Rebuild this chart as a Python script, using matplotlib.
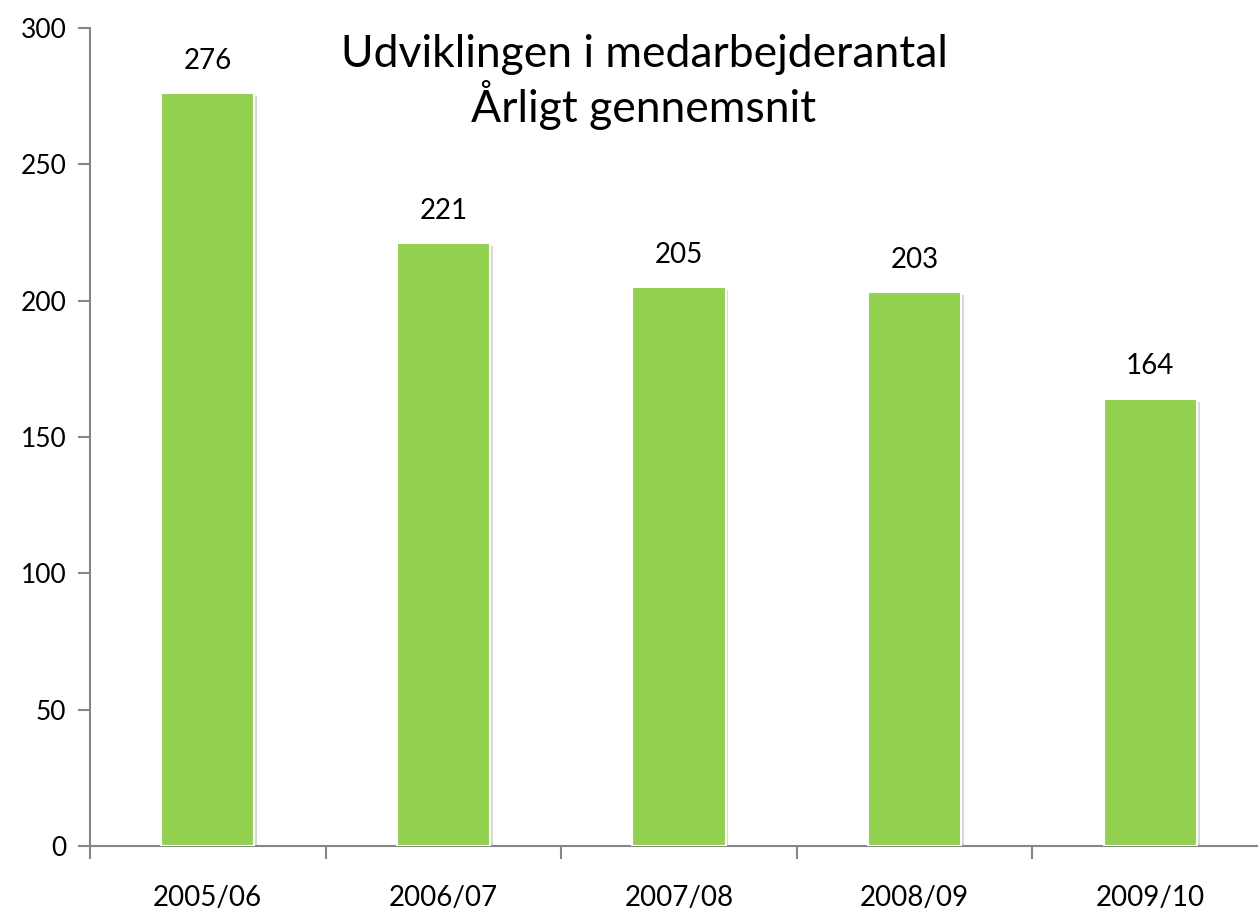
import numpy as np
import matplotlib
matplotlib.use("Agg")
import matplotlib.pyplot as plt
import matplotlib.patheffects as pe

# ----------
# DONNEES

perioder = ["2005/06", "2006/07", "2007/08", "2008/09", "2009/10"]
medarbejdere = [276, 221, 205, 203, 164]
y_ticks = [0, 50, 100, 150, 200, 250, 300]
titel = "Udviklingen i medarbejderantal\nÅrligt gennemsnit"

GROEN = "#92D050"
GRAA = "#868686"

plt.rcParams['font.family'] = ['Lato', 'DejaVu Sans']

fig = plt.figure(figsize=(12.58, 9.10), dpi=100)
ax = fig.add_axes([90/1258, 64/910, 1178/1258, 818/910])

x = np.arange(len(perioder))
bars = ax.bar(x, medarbejdere, width=0.395, color=GROEN, edgecolor="white",
              linewidth=1.5, zorder=3)
for b in bars:
    b.set_path_effects([pe.SimplePatchShadow(offset=(2, -2), shadow_rgbFace="gray", alpha=0.3),
                        pe.Normal()])

# etiketter over soejlerne
for xi, v in zip(x, medarbejdere):
    ax.annotate(str(v), (xi, v), xytext=(0, 14), textcoords="offset points",
                ha="center", va="bottom", fontsize=20, color="black")

ax.set_xlim(-0.5, len(perioder) - 0.5)
ax.set_ylim(0, 300)
ax.set_yticks(y_ticks)
ax.tick_params(axis="y", labelsize=19, length=9, width=1.5, color=GRAA, pad=8, direction="out")

# kategori-streger ved graenserne, tekst i midten
graenser = np.arange(-0.5, len(perioder))
ax.set_xticks(graenser, [""] * len(graenser))
ax.set_xticks(x, perioder, minor=True)
ax.tick_params(axis="x", which="major", length=9, width=1.5, color=GRAA, direction="out")
ax.tick_params(axis="x", which="minor", length=0, labelsize=20, pad=28)

for s in ["top", "right"]:
    ax.spines[s].set_visible(False)
for s in ["left", "bottom"]:
    ax.spines[s].set_color(GRAA)
    ax.spines[s].set_linewidth(1.5)

fig.text(644/1258, 1 - 82/910, titel, ha="center", va="center", fontsize=32,
         linespacing=1.1)

fig.savefig("out.png", dpi=100)
